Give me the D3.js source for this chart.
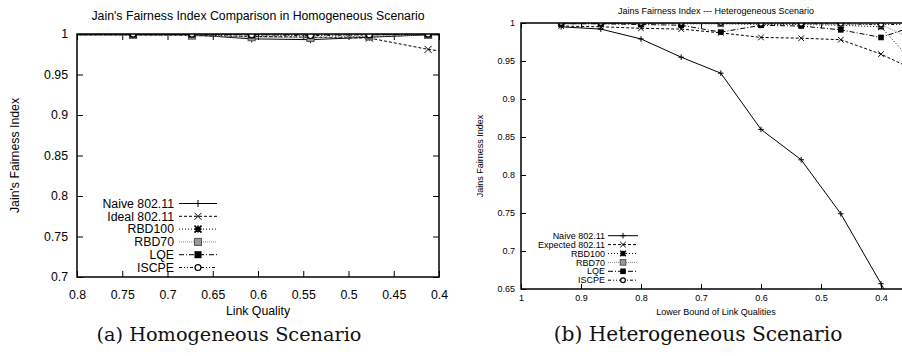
<!DOCTYPE html>
<html>
<head>
<meta charset="utf-8">
<script src="https://cdn.jsdelivr.net/npm/d3@7"></script>
<style>
    body { margin: 0; background: #ffffff; }
    svg { display: block; font-family: "Liberation Sans", Arial, Helvetica, sans-serif; }
</style>
</head>
<body>
<svg id="Figure" width="902" height="356"></svg>
<script>
/* global d3 */

// (a) homogeneous scenario
const names_a = ["Naive 802.11", "Ideal 802.11", "RBD100", "RBD70", "LQE", "ISCPE"];
const quality_a = [0.803, 0.738, 0.673, 0.607, 0.542, 0.477, 0.412, 0.347];
const naive_a = [0.999, 0.999, 0.999, 0.994, 0.993, 0.996, 0.999, 0.999];
const ideal_a = [0.999, 0.999, 0.998, 0.997, 0.996, 0.995, 0.981, 0.972];
const rbd100_a = [0.999, 0.999, 0.999, 0.997, 0.996, 0.997, 0.999, 0.999];
const rbd70_a = [0.999, 0.999, 0.998, 0.996, 0.995, 0.997, 0.999, 0.999];
const lqe_a = [1.0, 1.0, 1.0, 0.999, 0.999, 0.999, 1.0, 1.0];
const iscpe_a = [1.0, 1.0, 1.0, 0.999, 0.998, 0.999, 1.0, 1.0];
const x_ticks_a = [0.8, 0.75, 0.7, 0.65, 0.6, 0.55, 0.5, 0.45, 0.4];
const y_ticks_a = [0.7, 0.75, 0.8, 0.85, 0.9, 0.95, 1];

// (b) heterogeneous scenario
const names_b = ["Naive 802.11", "Expected 802.11", "RBD100", "RBD70", "LQE", "ISCPE"];
const bound_b = [0.933, 0.867, 0.8, 0.733, 0.667, 0.6, 0.533, 0.467, 0.4, 0.333];
const naive_b = [0.995, 0.992, 0.979, 0.955, 0.934, 0.860, 0.820, 0.749, 0.657, 0.560];
const expected_b = [0.996, 0.995, 0.993, 0.992, 0.987, 0.981, 0.980, 0.978, 0.959, 0.934];
const rbd100_b = [0.999, 0.999, 0.999, 0.999, 0.999, 0.998, 0.998, 0.997, 0.995, 0.936];
const rbd70_b = [1.0, 1.0, 1.0, 1.0, 0.999, 0.999, 0.999, 0.998, 0.998, 0.973];
const lqe_b = [0.999, 0.999, 0.998, 0.997, 0.988, 0.997, 0.996, 0.991, 0.981, 0.999];
const iscpe_b = [1.0, 1.0, 1.0, 1.0, 1.0, 0.999, 0.999, 0.999, 0.998, 0.998];
const x_ticks_b = [1, 0.9, 0.8, 0.7, 0.6, 0.5, 0.4];
const y_ticks_b = [0.65, 0.7, 0.75, 0.8, 0.85, 0.9, 0.95, 1];

// gnuplot-like monochrome line types
const line_styles = [
    {dash: null, color: "#000", marker: "plus"},
    {dash: "3,2", color: "#000", marker: "cross"},
    {dash: "1,2", color: "#000", marker: "star"},
    {dash: "1,1", color: "#8a8a8a", marker: "gray_square"},
    {dash: "5,2,1,2", color: "#000", marker: "filled_square"},
    {dash: "3,2,1,2,1,2", color: "#000", marker: "circle"}
];

const svg = d3.select("#Figure");
const tick_format = d3.format("~g");

const draw_marker = function (g, type, cx, cy, s) {
    if (type === "plus") {
        g.append("path").attr("d", `M${cx - s},${cy}H${cx + s}M${cx},${cy - s}V${cy + s}`)
            .attr("stroke", "#000").attr("stroke-width", 1);
    } else if (type === "cross") {
        g.append("path").attr("d", `M${cx - s},${cy - s}L${cx + s},${cy + s}M${cx - s},${cy + s}L${cx + s},${cy - s}`)
            .attr("stroke", "#000").attr("stroke-width", 1);
    } else if (type === "star") {
        g.append("path").attr("d", `M${cx - s},${cy - s}L${cx + s},${cy + s}M${cx - s},${cy + s}L${cx + s},${cy - s}`
            + `M${cx - s},${cy}H${cx + s}M${cx},${cy - s}V${cy + s}`)
            .attr("stroke", "#000").attr("stroke-width", 1.6);
    } else if (type === "gray_square") {
        g.append("rect").attr("x", cx - s).attr("y", cy - s).attr("width", 2 * s).attr("height", 2 * s)
            .attr("fill", "#9a9a9a").attr("stroke", "#555").attr("stroke-width", 1);
    } else if (type === "filled_square") {
        g.append("rect").attr("x", cx - s).attr("y", cy - s).attr("width", 2 * s).attr("height", 2 * s)
            .attr("fill", "#000");
    } else if (type === "circle") {
        g.append("circle").attr("cx", cx).attr("cy", cy).attr("r", s * 0.85)
            .attr("fill", "#fff").attr("stroke", "#000").attr("stroke-width", 1.2);
    }
};

const draw_panel = function (cfg) {

    const g = svg.append("g").attr("class", "Panel");

    const x = d3.scaleLinear().domain(cfg.x_domain).range([cfg.left, cfg.right]);
    const y = d3.scaleLinear().domain(cfg.y_domain).range([cfg.bottom, cfg.top]);

    g.append("clipPath").attr("id", cfg.id + "Clip")
        .append("rect")
        .attr("x", cfg.left).attr("y", cfg.top)
        .attr("width", cfg.right - cfg.left).attr("height", cfg.bottom - cfg.top);

    // axes with inward ticks, mirrored on top and right
    const style_axis = sel => {
        sel.select(".domain").remove();
        sel.attr("font-size", cfg.font).attr("font-family", null);
        sel.selectAll("text").attr("fill", "#000");
    };
    g.append("g").attr("transform", `translate(0,${cfg.bottom})`)
        .call(d3.axisBottom(x).tickValues(cfg.x_ticks).tickFormat(tick_format)
            .tickSize(-cfg.tick).tickPadding(cfg.x_pad))
        .call(style_axis);
    g.append("g").attr("transform", `translate(0,${cfg.top})`)
        .call(d3.axisTop(x).tickValues(cfg.x_ticks).tickFormat("").tickSize(-cfg.tick))
        .call(style_axis);
    g.append("g").attr("transform", `translate(${cfg.left},0)`)
        .call(d3.axisLeft(y).tickValues(cfg.y_ticks).tickFormat(tick_format)
            .tickSize(-cfg.tick).tickPadding(cfg.y_pad))
        .call(style_axis);
    g.append("g").attr("transform", `translate(${cfg.right},0)`)
        .call(d3.axisRight(y).tickValues(cfg.y_ticks).tickFormat("").tickSize(-cfg.tick))
        .call(style_axis);

    // series
    const plot = g.append("g").attr("clip-path", `url(#${cfg.id}Clip)`);
    const line = d3.line().x(d => x(d[0])).y(d => y(d[1]));
    const [x_lo, x_hi] = d3.extent(cfg.x_domain);
    const [y_lo, y_hi] = d3.extent(cfg.y_domain);

    cfg.series.forEach((values, i) => {
        const st = line_styles[i];
        const points = cfg.x_values.map((v, j) => [v, values[j]]);
        plot.append("path")
            .attr("d", line(points))
            .attr("fill", "none")
            .attr("stroke", st.color)
            .attr("stroke-width", 1)
            .attr("stroke-dasharray", st.dash);
        const markers = plot.append("g");
        points.filter(p => p[0] >= x_lo && p[0] <= x_hi && p[1] >= y_lo && p[1] <= y_hi)
            .forEach(p => draw_marker(markers, st.marker, x(p[0]), y(p[1]), cfg.marker));
    });

    // frame
    g.append("rect")
        .attr("x", cfg.left).attr("y", cfg.top)
        .attr("width", cfg.right - cfg.left).attr("height", cfg.bottom - cfg.top)
        .attr("fill", "none").attr("stroke", "#000").attr("stroke-width", 1.5);

    // legend
    const legend = g.append("g").attr("font-size", cfg.font);
    cfg.names.forEach((name, i) => {
        const st = line_styles[i];
        const ly = cfg.legend_y + i * cfg.legend_step;
        legend.append("text")
            .attr("x", cfg.legend_x).attr("y", ly).attr("dy", "0.35em")
            .attr("text-anchor", "end")
            .text(name);
        legend.append("line")
            .attr("x1", cfg.legend_x + cfg.sample_gap).attr("x2", cfg.legend_x + cfg.sample_gap + cfg.sample_len)
            .attr("y1", ly).attr("y2", ly)
            .attr("stroke", st.color).attr("stroke-width", 1)
            .attr("stroke-dasharray", st.dash);
        draw_marker(legend, st.marker, cfg.legend_x + cfg.sample_gap + cfg.sample_len / 2, ly, cfg.marker);
    });

    // titles and labels
    g.append("text")
        .attr("x", (cfg.left + cfg.title_right) / 2).attr("y", cfg.title_y)
        .attr("text-anchor", "middle").attr("font-size", cfg.font)
        .text(cfg.title);
    g.append("text")
        .attr("x", (cfg.left + cfg.title_right) / 2).attr("y", cfg.x_label_y)
        .attr("text-anchor", "middle").attr("font-size", cfg.font)
        .text(cfg.x_label);
    g.append("text")
        .attr("transform", `translate(${cfg.y_label_x},${(cfg.top + cfg.bottom) / 2}) rotate(-90)`)
        .attr("dy", "0.35em")
        .attr("text-anchor", "middle").attr("font-size", cfg.font)
        .text(cfg.y_label);
    g.append("text")
        .attr("x", cfg.caption_x).attr("y", 341)
        .attr("text-anchor", "middle")
        .attr("font-family", "'DejaVu Serif', 'Liberation Serif', serif")
        .attr("font-size", cfg.caption_font)
        .attr("fill", "#111")
        .text(cfg.caption);
};

draw_panel({
    id: "Homogeneous",
    left: 77, right: 439, top: 34, bottom: 277,
    x_domain: [0.8, 0.4], y_domain: [0.7, 1],
    x_ticks: x_ticks_a, y_ticks: y_ticks_a,
    x_values: quality_a,
    series: [naive_a, ideal_a, rbd100_a, rbd70_a, lqe_a, iscpe_a],
    names: names_a,
    font: 12.3, tick: 6, x_pad: 13, y_pad: 9, marker: 3.5,
    legend_x: 174, legend_y: 203.5, legend_step: 12.8, sample_gap: 5, sample_len: 38,
    title: "Jain's Fairness Index Comparison in Homogeneous Scenario",
    title_right: 439, title_y: 19.5,
    x_label: "Link Quality", x_label_y: 314.5,
    y_label: "Jain's Fairness Index", y_label_x: 15,
    caption: "(a) Homogeneous Scenario", caption_x: 229, caption_font: 19.3
});

draw_panel({
    id: "Heterogeneous",
    left: 521, right: 911, top: 23, bottom: 289,
    x_domain: [1, 0.35], y_domain: [0.65, 1],
    x_ticks: x_ticks_b, y_ticks: y_ticks_b,
    x_values: bound_b,
    series: [naive_b, expected_b, rbd100_b, rbd70_b, lqe_b, iscpe_b],
    names: names_b,
    font: 9, tick: 5, x_pad: 6, y_pad: 6, marker: 2.8,
    legend_x: 605, legend_y: 235.7, legend_step: 8.9, sample_gap: 3, sample_len: 30,
    title: "Jains Fairness Index --- Heterogeneous Scenario",
    title_right: 911, title_y: 13.5,
    x_label: "Lower Bound of Link Qualities", x_label_y: 314.5,
    y_label: "Jains Fairness Index", y_label_x: 480,
    caption: "(b) Heterogeneous Scenario", caption_x: 698, caption_font: 20.2
});
</script>
</body>
</html>
